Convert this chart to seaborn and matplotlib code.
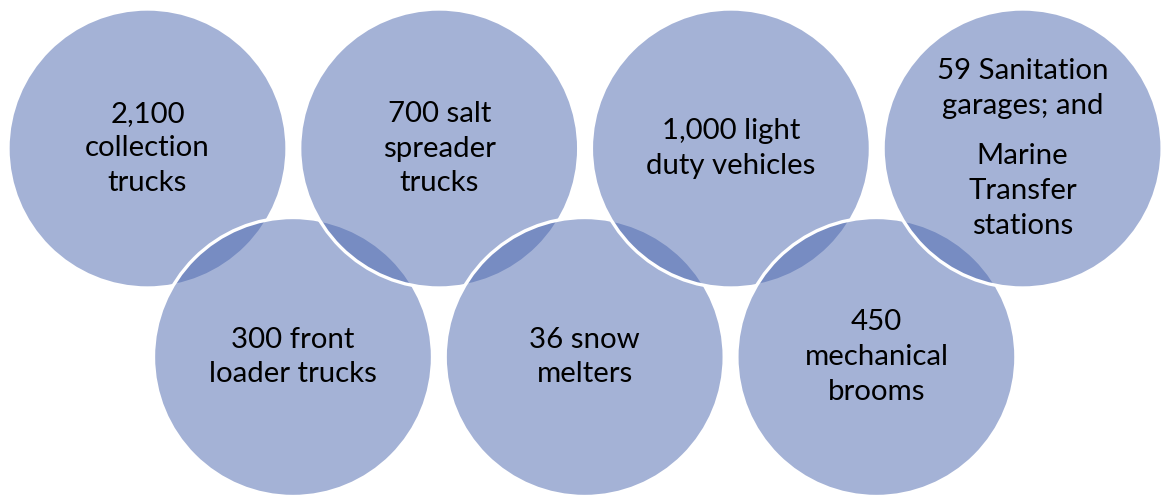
import matplotlib
matplotlib.use("Agg")
import matplotlib.pyplot as plt
from matplotlib.patches import Circle
import seaborn as sns

# ---- data (SmartArt order: alternating top / bottom row) ----
labels = [
    [["2,100", "collection", "trucks"]],
    [["300 front", "loader trucks"]],
    [["700 salt", "spreader", "trucks"]],
    [["36 snow", "melters"]],
    [["1,000 light", "duty vehicles"]],
    [["450", "mechanical", "brooms"]],
    [["59 Sanitation", "garages; and"], ["Marine", "Transfer", "stations"]],
]
rows = ["top", "bottom", "top", "bottom", "top", "bottom", "top"]

sns.set_theme(style="white")
plt.rcParams["font.family"] = ["Lato", "DejaVu Sans"]

W, H = 1162, 496
fig = plt.figure(figsize=(W / 100, H / 100), dpi=100)
ax = fig.add_axes([0, 0, 1, 1])
ax.set_xlim(0, W)
ax.set_ylim(H, 0)
ax.set_aspect("equal")
ax.axis("off")

fill = (75 / 255, 103 / 255, 175 / 255, 0.5)
r = 139.5
x0_top, x0_bot, step = 147.5, 293.0, 291.7
y_top, y_bot = 148.5, 357.0
line_h = 34.8
para_gap = 15.5
fs = 21.2

ti = bi = 0
for k, (paras, row) in enumerate(zip(labels, rows)):
    if row == "top":
        cx, cy = x0_top + step * ti, y_top
        ti += 1
    else:
        cx, cy = x0_bot + step * bi, y_bot
        bi += 1
    ax.add_patch(Circle((cx, cy), r, facecolor=fill, edgecolor="white",
                        linewidth=2.4, zorder=k + 1))
    n_lines = sum(len(p) for p in paras)
    total = n_lines * line_h + (len(paras) - 1) * para_gap
    y = cy - total / 2 + line_h / 2
    for p in paras:
        for line in p:
            ax.text(cx, y, line, ha="center", va="center", fontsize=fs,
                    color="black", zorder=20)
            y += line_h
        y += para_gap

fig.savefig("out.png", dpi=100, facecolor="white")
